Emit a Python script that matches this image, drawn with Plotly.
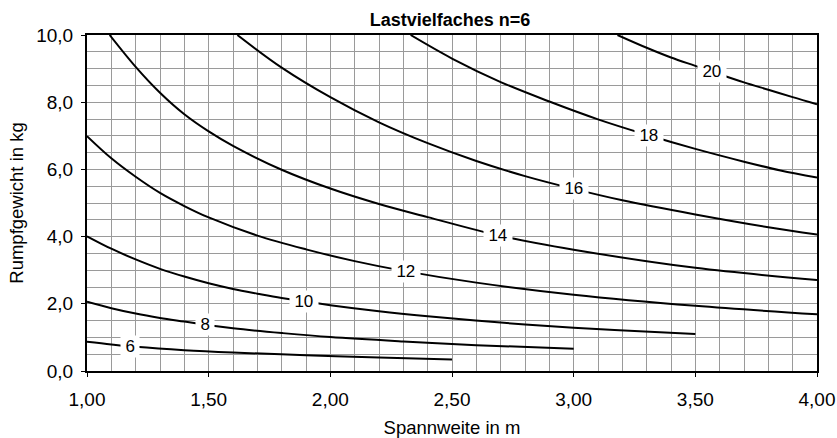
import numpy as np
import plotly.graph_objects as go

# ---- tick labels ----
x_tickvals = [1.0, 1.5, 2.0, 2.5, 3.0, 3.5, 4.0]
x_ticktext = ["1,00", "1,50", "2,00", "2,50", "3,00", "3,50", "4,00"]
y_tickvals = [0, 2, 4, 6, 8, 10]
y_ticktext = ["0,0", "2,0", "4,0", "6,0", "8,0", "10,0"]

# ---- contour curves (Spannweite in m -> Rumpfgewicht in kg) ----
c6_x = [1.0, 1.1, 1.2, 1.4, 1.6, 1.9, 2.2, 2.5]
c6_y = [0.87, 0.79, 0.72, 0.62, 0.55, 0.47, 0.40, 0.34]

c8_x = [1.0, 1.1, 1.2, 1.3, 1.4, 1.5, 1.6, 1.8, 2.0, 2.3, 2.6, 3.0]
c8_y = [2.06, 1.87, 1.71, 1.58, 1.47, 1.36, 1.27, 1.13, 1.01, 0.88, 0.77, 0.66]

c10_x = [1.0, 1.1, 1.2, 1.3, 1.4, 1.5, 1.6, 1.7, 1.8, 2.0, 2.2, 2.4, 2.7, 3.0, 3.25, 3.5]
c10_y = [4.01, 3.64, 3.32, 3.04, 2.81, 2.61, 2.44, 2.30, 2.17, 1.96, 1.78, 1.63, 1.44, 1.29, 1.19, 1.10]

c12_x = [1.0, 1.1, 1.2, 1.3, 1.4, 1.5, 1.7, 1.9, 2.1, 2.3, 2.6, 3.0, 3.5, 4.0]
c12_y = [6.99, 6.33, 5.78, 5.30, 4.91, 4.57, 4.03, 3.62, 3.27, 2.98, 2.63, 2.27, 1.94, 1.69]

c14_x = [1.093, 1.2, 1.3, 1.4, 1.5, 1.6, 1.8, 2.0, 2.2, 2.4, 2.7, 3.0, 3.5, 4.0]
c14_y = [10.0, 9.05, 8.28, 7.64, 7.13, 6.70, 5.99, 5.43, 4.97, 4.58, 4.02, 3.61, 3.07, 2.71]

c16_x = [1.618, 1.8, 2.0, 2.2, 2.4, 2.6, 2.8, 3.0, 3.2, 3.5, 3.8, 4.0]
c16_y = [10.0, 9.03, 8.15, 7.40, 6.78, 6.25, 5.80, 5.42, 5.08, 4.66, 4.28, 4.06]

c18_x = [2.33, 2.5, 2.7, 2.9, 3.1, 3.3, 3.5, 3.7, 3.85, 4.0]
c18_y = [10.0, 9.30, 8.60, 8.02, 7.49, 7.03, 6.61, 6.23, 5.97, 5.76]

c20_x = [3.18, 3.3, 3.4, 3.5, 3.6, 3.7, 3.8, 3.9, 4.0]
c20_y = [10.0, 9.62, 9.33, 9.08, 8.83, 8.59, 8.37, 8.15, 7.94]

levels = ["6", "8", "10", "12", "14", "16", "18", "20"]
curves_x = [c6_x, c8_x, c10_x, c12_x, c14_x, c16_x, c18_x, c20_x]
curves_y = [c6_y, c8_y, c10_y, c12_y, c14_y, c16_y, c18_y, c20_y]
label_x = [1.175, 1.485, 1.89, 2.31, 2.69, 3.0, 3.31, 3.57]

fig = go.Figure()
for lv, cx, cy in zip(levels, curves_x, curves_y):
    fig.add_trace(go.Scatter(x=cx, y=cy, mode="lines", name=lv,
                             line=dict(color="black", width=2, shape="spline", smoothing=1.0),
                             hoverinfo="skip"))

for lv, cx, cy, lx in zip(levels, curves_x, curves_y, label_x):
    ly = float(np.interp(lx, cx, cy))
    fig.add_annotation(x=lx, y=ly, xref="x", yref="y", text="\u2009" + lv + "\u2009",
                       showarrow=False, bgcolor="white", borderpad=1,
                       font=dict(size=17, color="black"))

grid_col = "#9a9a9a"
fig.update_xaxes(range=[1, 4], tickmode="array", tickvals=x_tickvals, ticktext=x_ticktext,
                 ticks="outside", ticklen=4, tickcolor="black", tickwidth=1,
                 showline=True, linecolor="black", linewidth=2, mirror=True,
                 showgrid=True, gridcolor=grid_col, gridwidth=1, zeroline=False,
                 minor=dict(tick0=1, dtick=0.1, showgrid=True, gridcolor=grid_col, gridwidth=1),
                 ticklabelstandoff=6, tickfont=dict(size=19),
                 title=dict(text="Spannweite in m", standoff=15, font=dict(size=18.5)))
fig.update_yaxes(range=[0, 10], tickmode="array", tickvals=y_tickvals, ticktext=y_ticktext,
                 ticks="outside", ticklen=4, tickcolor="black", tickwidth=1,
                 showline=True, linecolor="black", linewidth=2, mirror=True,
                 showgrid=True, gridcolor=grid_col, gridwidth=1, zeroline=False,
                 minor=dict(tick0=0, dtick=0.5, showgrid=True, gridcolor=grid_col, gridwidth=1),
                 ticklabelstandoff=4, tickfont=dict(size=19),
                 title=dict(text="Rumpfgewicht in kg", standoff=8, font=dict(size=18.5)))

fig.update_layout(
    width=837, height=438,
    margin=dict(l=87, r=20, t=35, b=67, autoexpand=False),
    plot_bgcolor="white", paper_bgcolor="white",
    showlegend=False,
    font=dict(family="Liberation Sans, Arial, sans-serif", size=18, color="black"),
    title=dict(text="<b>Lastvielfaches n=6</b>", x=450 / 837, xanchor="center",
               y=1 - 20 / 438, yanchor="middle", yref="container",
               font=dict(size=18, color="black")),
)

fig.write_html("out.html", config={"displayModeBar": False},
               post_script="document.body.style.margin='0';")
